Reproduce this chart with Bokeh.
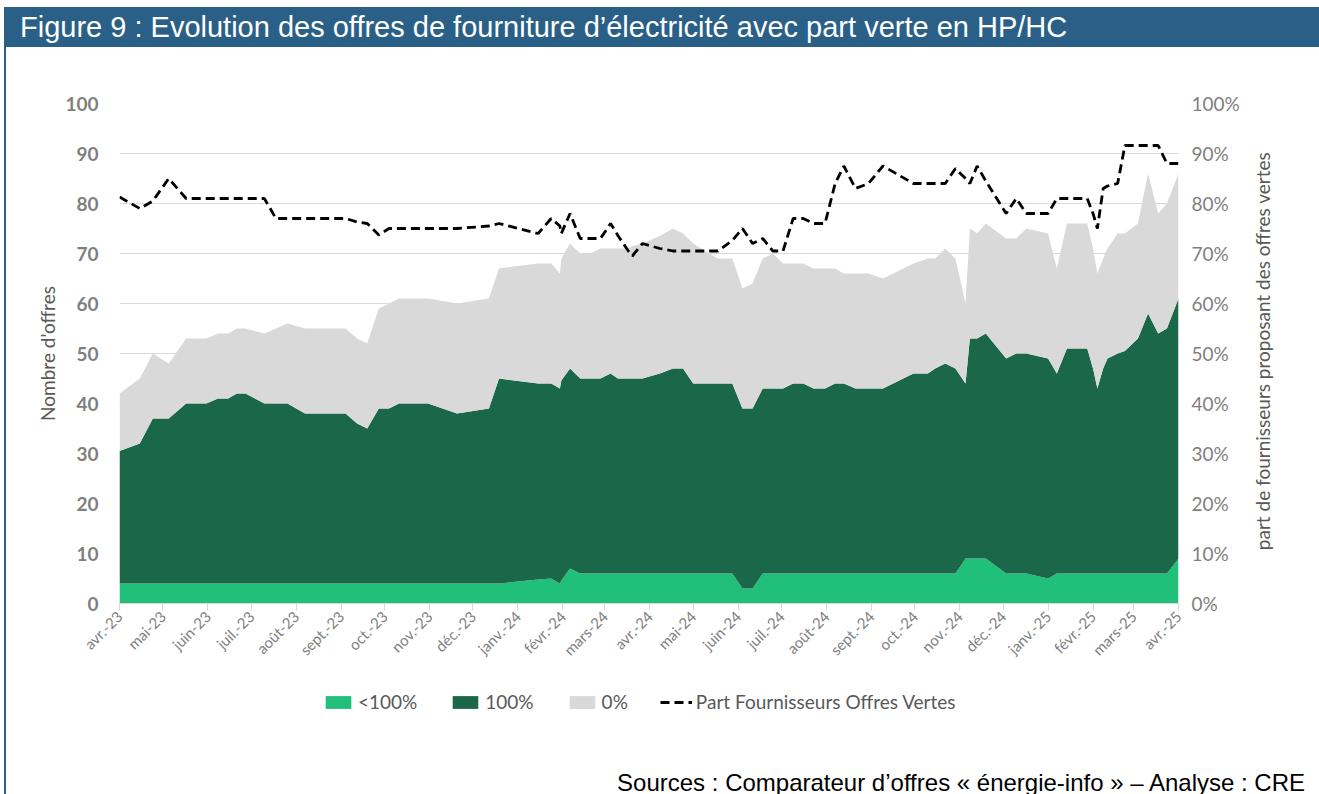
import math
import pandas as pd
from bokeh.plotting import figure
from bokeh.layouts import column, row
from bokeh.models import (ColumnDataSource, Range1d, LinearAxis, FixedTicker, Legend,
                          LegendItem, Div, PrintfTickFormatter)
from bokeh.embed import file_html
from bokeh.resources import INLINE
from bokeh.core.properties import value

# ---------------- data ----------------
dates = [
    "2023-04-01", "2023-04-15", "2023-04-24", "2023-05-05", "2023-05-17", "2023-05-31",
    "2023-06-08", "2023-06-15", "2023-06-21", "2023-06-27", "2023-07-10", "2023-07-18",
    "2023-07-26", "2023-08-07", "2023-08-21", "2023-09-04", "2023-09-12", "2023-09-19",
    "2023-09-27", "2023-10-04", "2023-10-11", "2023-10-31", "2023-11-20", "2023-12-12",
    "2023-12-19", "2024-01-15", "2024-01-24", "2024-01-30", "2024-01-31", "2024-02-06",
    "2024-02-13", "2024-02-20", "2024-02-27", "2024-03-05", "2024-03-10", "2024-03-17",
    "2024-03-20", "2024-03-27", "2024-04-08", "2024-04-17", "2024-04-24", "2024-05-01",
    "2024-05-18", "2024-05-28", "2024-06-04", "2024-06-11", "2024-06-18", "2024-06-25",
    "2024-07-02", "2024-07-09", "2024-07-16", "2024-07-23", "2024-07-31", "2024-08-07",
    "2024-08-13", "2024-08-21", "2024-08-30", "2024-09-09", "2024-09-30", "2024-10-10",
    "2024-10-15", "2024-10-22", "2024-10-29", "2024-11-05", "2024-11-08", "2024-11-13",
    "2024-11-19", "2024-12-03", "2024-12-10", "2024-12-17", "2025-01-01", "2025-01-07",
    "2025-01-14", "2025-01-28", "2025-02-01", "2025-02-04", "2025-02-08", "2025-02-11",
    "2025-02-18", "2025-02-23", "2025-03-04", "2025-03-11", "2025-03-18", "2025-03-24",
    "2025-04-01",
]

offres_moins_100 = [
    4, 4, 4, 4, 4, 4, 4, 4, 4, 4, 4, 4, 4, 4, 4, 4, 4, 4, 4, 4, 4, 4, 4, 4, 4,
    4.8, 5, 4, 4.6, 7, 6, 6, 6, 6, 6, 6, 6, 6, 6, 6, 6, 6, 6, 6, 3, 3, 6, 6, 6, 6,
    6, 6, 6, 6, 6, 6, 6, 6, 6, 6, 6, 6, 6, 9, 9, 9, 9, 6, 6, 6, 5, 6, 6, 6, 6,
    6, 6, 6, 6, 6, 6, 6, 6, 6, 9,
]

offres_100 = [
    26.5, 28, 33, 33, 36, 36, 37, 37, 38, 38, 36, 36, 36, 34, 34, 34, 32, 31, 35, 35,
    36, 36, 34, 35, 41, 39.2, 39, 39, 40, 40, 39, 39, 39, 40, 39, 39, 39, 39, 40, 41,
    41, 38, 38, 38, 36, 36, 37, 37, 37, 38, 38, 37, 37, 38, 38, 37, 37, 37, 40, 40,
    41, 42, 41, 35, 44, 44, 45, 43, 44, 44, 44, 40, 45, 45, 41, 37, 41, 43, 44, 44.5,
    47, 52, 48, 49, 52,
]

offres_0 = [
    11.5, 13, 13, 11, 13, 13, 13, 13, 13, 13, 14, 15, 16, 17, 17, 17, 17, 17, 20, 21,
    21, 21, 22, 22, 22, 24, 24, 23, 24.4, 25, 25, 25, 26, 25, 26, 26, 26.5, 27, 27.5, 28,
    27, 28, 25, 25, 24, 25, 26, 27, 25, 24, 24, 24, 24, 23, 22, 23, 23, 22, 22, 23,
    22, 23, 22, 16, 22, 21, 22, 24, 23, 25, 25, 21, 25, 25, 24, 23, 22, 22, 24, 23.5,
    23, 28, 24, 25, 25,
]

part_fournisseurs_vertes = [
    81.3, 79, 80.5, 85, 81, 81, 81, 81, 81, 81, 81, 77, 77, 77, 77, 77, 76.3, 76, 73.7, 75,
    75, 75, 75, 75.5, 76, 74, 77, 75.5, 74, 78, 73, 73, 73, 76, 73.6, 70.6, 69.5, 72, 71, 70.5,
    70.5, 70.5, 70.5, 72.6, 75, 72, 73, 70.5, 70.5, 77, 77, 76, 76, 84, 87.5, 83, 84, 87.5, 84, 84,
    84, 84, 87, 85, 84, 87.5, 84.5, 78, 81, 78, 78, 81, 81, 81, 78, 75, 83, 83.5, 84, 91.6,
    91.6, 91.6, 91.6, 88, 88,
]

mois_labels = [
    "avr.-23", "mai-23", "juin-23", "juil.-23", "août-23", "sept.-23", "oct.-23", "nov.-23",
    "déc.-23", "janv.-24", "févr.-24", "mars-24", "avr.-24", "mai-24", "juin-24", "juil.-24",
    "août-24", "sept.-24", "oct.-24", "nov.-24", "déc.-24", "janv.-25", "févr.-25", "mars-25",
    "avr.-25",
]

series_labels = ["<100%", "100%", "0%", "Part Fournisseurs Offres Vertes"]

titre = "Figure 9 : Evolution des offres de fourniture d’électricité avec part verte en HP/HC"
source_txt = "Sources : Comparateur d’offres « énergie-info » – Analyse : CRE"
label_gauche = "Nombre d'offres"
label_droite = "part de fournisseurs proposant des offres vertes"

# ---------------- derived ----------------
origin = pd.Timestamp("2023-04-01")
days = [int((pd.Timestamp(d) - origin).days) for d in dates]
month_days = [int((d - origin).days) for d in pd.date_range("2023-04-01", "2025-04-01", freq="MS")]
last_day = month_days[-1]

BLUE = "#2A6087"
C_LT = "#21C07A"
C_100 = "#1A6849"
C_0 = "#D9D9D9"
FONT = "Lato"
GREY_TXT = "#7F7F7F"
LEG_TXT = "#595959"
DASH = "9 5"

src = ColumnDataSource(dict(day=days, lt=offres_moins_100, p100=offres_100, p0=offres_0,
                            part=part_fournisseurs_vertes))

BL, FW, BR = 113, 1059, 66
BT, FH, BB = 56, 500, 56

# ---------------- title bar ----------------
bar = Div(text=titre, width=1313, height=40, margin=0,
          styles={"background-color": BLUE, "color": "white", "font-family": "Liberation Sans",
                  "font-size": "29px", "line-height": "40px", "padding-left": "14px",
                  "box-sizing": "border-box", "white-space": "nowrap", "overflow": "hidden"})

# ---------------- main chart ----------------
p = figure(frame_width=FW, frame_height=FH, x_range=Range1d(0, last_day),
           y_range=Range1d(0, 100), output_backend="svg", toolbar_location=None,
           min_border_left=BL, min_border_right=BR, min_border_top=BT, min_border_bottom=BB,
           margin=0, background_fill_color="white", border_fill_color="white",
           outline_line_color=None)

p.xgrid.visible = False
p.ygrid.ticker = FixedTicker(ticks=list(range(0, 101, 10)))
p.ygrid.grid_line_color = "#D9D9D9"
p.ygrid.grid_line_width = 1

yl = p.left[0]
yl.ticker = FixedTicker(ticks=list(range(0, 101, 10)))
yl.axis_line_color = None
yl.major_tick_line_color = None
yl.minor_tick_line_color = None
yl.major_label_standoff = 15
yl.major_label_text_font = FONT
yl.major_label_text_font_style = "bold"
yl.major_label_text_font_size = "19px"
yl.major_label_text_color = GREY_TXT
yl.axis_label = label_gauche
yl.axis_label_text_font = FONT
yl.axis_label_text_font_style = "normal"
yl.axis_label_text_font_size = "19px"
yl.axis_label_text_color = LEG_TXT
yl.axis_label_standoff = 3

xb = p.below[0]
xb.ticker = FixedTicker(ticks=month_days)
xb.major_label_overrides = {d: lab for d, lab in zip(month_days, mois_labels)}
xb.major_label_orientation = math.pi / 4
xb.major_label_text_font = FONT
xb.major_label_text_font_size = "15px"
xb.major_label_text_color = GREY_TXT
xb.axis_line_color = "#D9D9D9"
xb.major_tick_line_color = "#D9D9D9"
xb.major_tick_in = 0
xb.major_tick_out = 7
xb.minor_tick_line_color = None
xb.major_label_standoff = 3

p.extra_y_ranges = {"pct": Range1d(0, 100)}
yr = LinearAxis(y_range_name="pct", ticker=FixedTicker(ticks=list(range(0, 101, 10))),
                formatter=PrintfTickFormatter(format="%d%%"))
yr.axis_line_color = None
yr.major_tick_line_color = None
yr.minor_tick_line_color = None
yr.major_label_standoff = 7
yr.major_label_text_font = FONT
yr.major_label_text_font_size = "19px"
yr.major_label_text_color = GREY_TXT
p.add_layout(yr, "right")

areas = p.varea_stack(["lt", "p100", "p0"], x="day", color=[C_LT, C_100, C_0], source=src)
ln = p.line("day", "part", source=src, y_range_name="pct", line_color="black",
            line_width=2.8, line_dash=DASH)

# ---------------- right axis title (reads bottom to top) ----------------
rf = figure(frame_width=40, frame_height=FH, x_range=Range1d(0, 40), y_range=Range1d(0, 100),
            output_backend="svg", toolbar_location=None, min_border_left=0, min_border_right=0,
            min_border_top=BT, min_border_bottom=BB, margin=0,
            x_axis_location=None, y_axis_location=None, outline_line_color=None,
            background_fill_color="white", border_fill_color="white")
rf.grid.visible = False
rf.text(x=[18], y=[50.5], text=[label_droite], angle=math.pi / 2, text_align="center",
        text_baseline="middle", text_font=value(FONT), text_font_size="19px",
        text_color=LEG_TXT)

# ---------------- legend strip ----------------
lf = figure(frame_width=FW, frame_height=100, x_range=Range1d(0, 1), y_range=Range1d(0, 1),
            output_backend="svg", toolbar_location=None, min_border_left=BL,
            min_border_right=BR, min_border_top=0, min_border_bottom=0, margin=0,
            x_axis_location=None, y_axis_location=None, outline_line_color=None,
            background_fill_color="white", border_fill_color="white")
lf.grid.visible = False
# legend-only renderers, placed outside the visible range of this strip
offscreen = ColumnDataSource(dict(x=[5, 6], y1=[5, 5], y2=[6, 6]))
lg_r = [lf.varea(x="x", y1="y1", y2="y2", color=c, source=offscreen) for c in (C_LT, C_100, C_0)]
lg_l = lf.line(x="x", y="y1", source=offscreen, line_color="black", line_width=2.8,
               line_dash=DASH)
legend = Legend(items=[LegendItem(label=series_labels[0], renderers=[lg_r[0]]),
                       LegendItem(label=series_labels[1], renderers=[lg_r[1]]),
                       LegendItem(label=series_labels[2], renderers=[lg_r[2]]),
                       LegendItem(label=series_labels[3], renderers=[lg_l])],
                location=(203, 54), orientation="horizontal",
                glyph_width=32, glyph_height=16, label_standoff=4, spacing=32,
                label_text_font=FONT, label_text_font_size="19px", label_text_color=LEG_TXT,
                padding=0, margin=0, border_line_color=None, background_fill_alpha=0)
lf.add_layout(legend)

src_div = Div(text=source_txt, width=1313, height=32, margin=0,
              styles={"color": "black", "font-family": "Liberation Sans", "font-size": "24px",
                      "line-height": "32px", "text-align": "right", "padding-right": "14px",
                      "box-sizing": "border-box", "white-space": "nowrap"})

layout = column(bar, row(p, rf, spacing=0), lf, src_div, spacing=0, margin=(7, 0, 0, 4),
                styles={"border-left": f"2px solid {BLUE}"})

open("out.html", "w").write(file_html(layout, INLINE))
